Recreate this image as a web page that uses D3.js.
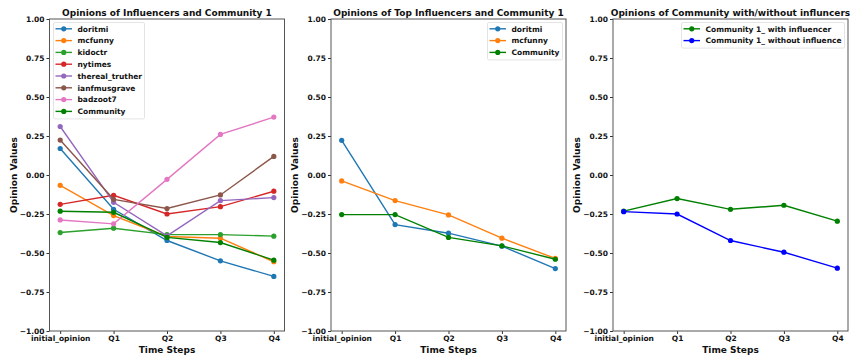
<!DOCTYPE html>
<html>
<head>
<meta charset="utf-8">
<script src="https://cdn.jsdelivr.net/npm/d3@7"></script>
<style>
  body { margin: 0; background: #fff; }
  svg { display: block; font-family: "DejaVu Sans", sans-serif; font-weight: bold; }
</style>
</head>
<body>
<svg id="chart" width="853" height="358"></svg>
<script>
// Time steps shared by all three panels
const steps = ["initial_opinion", "Q1", "Q2", "Q3", "Q4"];
const yTicks = [-1.0, -0.75, -0.5, -0.25, 0.0, 0.25, 0.5, 0.75, 1.0];

// Panel 1: all influencers and the community
const doritmi        = [0.17, -0.22, -0.42, -0.55, -0.65];
const mcfunny        = [-0.066, -0.26, -0.394, -0.405, -0.556];
const kidoctr        = [-0.369, -0.341, -0.382, -0.382, -0.392];
const nytimes        = [-0.188, -0.13, -0.25, -0.203, -0.104];
const therealTruther = [0.311, -0.175, -0.39, -0.164, -0.145];
const ianfmusgrave   = [0.224, -0.156, -0.215, -0.128, 0.119];
const badzoot7       = [-0.288, -0.313, -0.028, 0.26, 0.371];
const community      = [-0.232, -0.239, -0.40, -0.433, -0.546];

// Panel 2: top influencers and the community
const topDoritmi   = [0.222, -0.318, -0.373, -0.456, -0.60];
const topMcfunny   = [-0.038, -0.164, -0.256, -0.405, -0.535];
const topCommunity = [-0.254, -0.254, -0.40, -0.454, -0.54];

// Panel 3: community with and without influencers
const withInfluencer    = [-0.232, -0.151, -0.22, -0.194, -0.296];
const withoutInfluencer = [-0.235, -0.25, -0.42, -0.495, -0.597];

const panels = [
  {
    title: "Opinions of Influencers and Community 1",
    x0: 49.5, x1: 284.5,
    legend: { anchor: "left", x: 53.5, y: 22.5, w: 91 },
    series: [
      { name: "doritmi", values: doritmi, color: "#1f77b4" },
      { name: "mcfunny", values: mcfunny, color: "#ff7f0e" },
      { name: "kidoctr", values: kidoctr, color: "#2ca02c" },
      { name: "nytimes", values: nytimes, color: "#d62728" },
      { name: "thereal_truther", values: therealTruther, color: "#9467bd" },
      { name: "ianfmusgrave", values: ianfmusgrave, color: "#8c564b" },
      { name: "badzoot7", values: badzoot7, color: "#e377c2" },
      { name: "Community", values: community, color: "#008000" }
    ]
  },
  {
    title: "Opinions of Top Influencers and Community 1",
    x0: 331, x1: 566,
    legend: { anchor: "right", x: 562.5, y: 22.5, w: 75 },
    series: [
      { name: "doritmi", values: topDoritmi, color: "#1f77b4" },
      { name: "mcfunny", values: topMcfunny, color: "#ff7f0e" },
      { name: "Community", values: topCommunity, color: "#008000" }
    ]
  },
  {
    title: "Opinions of Community with/without influncers",
    x0: 613, x1: 848,
    legend: { anchor: "right", x: 844.5, y: 22.5, w: 163 },
    series: [
      { name: "Community 1_ with influencer", values: withInfluencer, color: "#008000" },
      { name: "Community 1_ without influence", values: withoutInfluencer, color: "#0000ff" }
    ]
  }
];

const svg = d3.select("#chart");
const plotTop = 19, plotBottom = 331;
const y = d3.scaleLinear().domain([-1, 1]).range([plotBottom, plotTop]);

panels.forEach(p => {
  const g = svg.append("g");
  // matplotlib-style 5% margins: span of 4 steps plus 0.2 step on each side
  const stepW = (p.x1 - p.x0) / 4.4;
  const x = d3.scalePoint().domain(steps)
    .range([p.x0 + 0.2 * stepW, p.x1 - 0.2 * stepW]).padding(0);

  // y axis
  const yAxis = d3.axisLeft(y).tickValues(yTicks)
    .tickFormat(d => d3.format(".2f")(d).replace("-", "\u2212"))
    .tickSize(3).tickPadding(2);
  const ya = g.append("g").attr("transform", `translate(${p.x0},0)`).call(yAxis);
  ya.select(".domain").remove();
  ya.selectAll("line").attr("stroke", "#333");
  ya.selectAll("text").attr("font-size", 7.5).attr("font-weight", "bold")
    .attr("font-family", "DejaVu Sans").attr("fill", "#111");

  // x axis
  const xAxis = d3.axisBottom(x).tickSize(3).tickPadding(1.5);
  const xa = g.append("g").attr("transform", `translate(0,${plotBottom})`).call(xAxis);
  xa.select(".domain").remove();
  xa.selectAll("line").attr("stroke", "#333");
  xa.selectAll("text").attr("font-size", 7.5).attr("font-weight", "bold")
    .attr("font-family", "DejaVu Sans").attr("fill", "#111");

  // frame
  g.append("rect").attr("x", p.x0).attr("y", plotTop)
    .attr("width", p.x1 - p.x0).attr("height", plotBottom - plotTop)
    .attr("fill", "none").attr("stroke", "#555").attr("stroke-width", 1);

  // title and axis labels
  g.append("text").attr("x", (p.x0 + p.x1) / 2).attr("y", 15.5)
    .attr("text-anchor", "middle").attr("font-size", 9).attr("fill", "#111")
    .text(p.title);
  g.append("text").attr("x", (p.x0 + p.x1) / 2).attr("y", 353)
    .attr("text-anchor", "middle").attr("font-size", 9).attr("fill", "#111")
    .text("Time Steps");
  g.append("text")
    .attr("transform", `translate(${p.x0 - 33},${(plotTop + plotBottom) / 2}) rotate(-90)`)
    .attr("text-anchor", "middle").attr("font-size", 9).attr("fill", "#111")
    .text("Opinion Values");

  // series lines and markers
  const line = d3.line().x((d, i) => x(steps[i])).y(d => y(d));
  p.series.forEach(s => {
    g.append("path").datum(s.values).attr("d", line)
      .attr("fill", "none").attr("stroke", s.color).attr("stroke-width", 1.4);
    g.selectAll(null).data(s.values).enter().append("circle")
      .attr("cx", (d, i) => x(steps[i])).attr("cy", d => y(d))
      .attr("r", 2.6).attr("fill", s.color);
  });

  // legend
  const L = p.legend;
  const rowH = 11.8;
  const lh = p.series.length * rowH + 2;
  const lx = L.anchor === "left" ? L.x : L.x - L.w;
  const lg = g.append("g");
  lg.append("rect").attr("x", lx).attr("y", L.y).attr("width", L.w).attr("height", lh)
    .attr("rx", 1.5).attr("fill", "#fff").attr("fill-opacity", 0.8)
    .attr("stroke", "#ddd").attr("stroke-width", 0.8);
  p.series.forEach((s, i) => {
    const cy = L.y + 6.3 + i * rowH;
    lg.append("line").attr("x1", lx + 2).attr("x2", lx + 18.5)
      .attr("y1", cy).attr("y2", cy).attr("stroke", s.color).attr("stroke-width", 1.4);
    lg.append("circle").attr("cx", lx + 10.25).attr("cy", cy).attr("r", 2.6).attr("fill", s.color);
    lg.append("text").attr("x", lx + 24).attr("y", cy + 2.8)
      .attr("font-size", 7.5).attr("fill", "#111").text(s.name);
  });
});
</script>
</body>
</html>
